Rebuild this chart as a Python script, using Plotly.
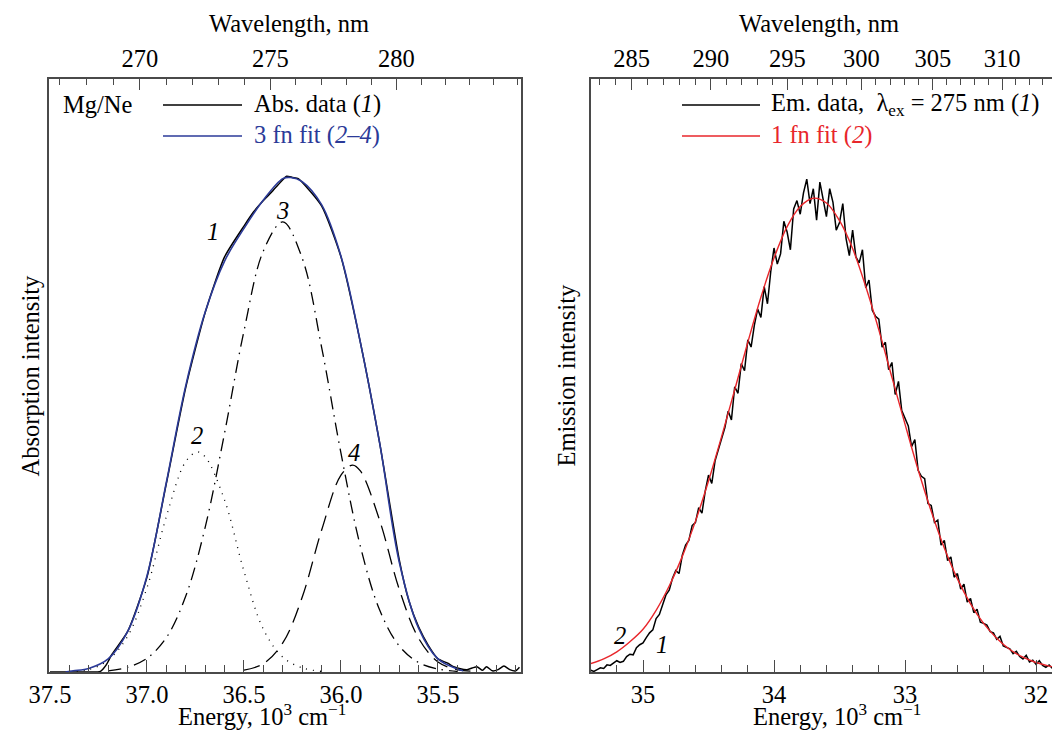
import plotly.graph_objects as go

# ---------------- data (energy in 10^3 cm^-1, intensity in axis fraction) ----------------
# Left panel: Mg/Ne absorption
abs_E = [37.50, 37.40, 37.30, 37.24, 37.21, 37.18, 37.10, 37.00, 36.90, 36.80, 36.70, 36.60,
         36.50, 36.45, 36.40, 36.35, 36.30, 36.28, 36.25, 36.22, 36.20, 36.10, 36.00, 35.90,
         35.80, 35.70, 35.65, 35.60, 35.55, 35.50, 35.45, 35.42, 35.39, 35.35, 35.30, 35.27,
         35.25, 35.22, 35.19, 35.16, 35.13, 35.10, 35.08]
abs_I = [0.000, 0.000, 0.000, 0.001, 0.012, 0.030, 0.068, 0.160, 0.318, 0.480, 0.606, 0.700,
         0.752, 0.776, 0.795, 0.812, 0.830, 0.836, 0.834, 0.832, 0.826, 0.786, 0.700, 0.556,
         0.385, 0.190, 0.120, 0.076, 0.045, 0.022, 0.015, 0.009, 0.006, 0.004, 0.009, 0.003,
         0.009, 0.002, 0.004, 0.010, 0.004, 0.002, 0.008]

fit3_E = [37.42, 37.38, 37.30, 37.20, 37.10, 37.00, 36.90, 36.80, 36.70, 36.60, 36.50, 36.40,
          36.30, 36.26, 36.20, 36.10, 36.00, 35.90, 35.80, 35.70, 35.60, 35.50, 35.40, 35.37]
fit3_I = [0.000, 0.002, 0.006, 0.022, 0.068, 0.162, 0.320, 0.483, 0.607, 0.693, 0.748, 0.796,
          0.832, 0.834, 0.827, 0.788, 0.701, 0.556, 0.385, 0.186, 0.074, 0.022, 0.005, 0.002]

comp2_E = [37.40, 37.30, 37.20, 37.10, 37.00, 36.90, 36.80, 36.74, 36.70, 36.60, 36.50, 36.40,
           36.30, 36.20, 36.10]
comp2_I = [0.001, 0.004, 0.020, 0.060, 0.142, 0.262, 0.355, 0.371, 0.363, 0.290, 0.170, 0.072,
           0.025, 0.007, 0.001]

comp3_E = [37.20, 37.10, 37.00, 36.90, 36.80, 36.70, 36.60, 36.50, 36.40, 36.30, 36.20, 36.10,
           36.00, 35.90, 35.80, 35.70, 35.60, 35.50, 35.40]
comp3_I = [0.002, 0.008, 0.023, 0.058, 0.128, 0.244, 0.403, 0.575, 0.710, 0.759, 0.698, 0.548,
           0.369, 0.212, 0.104, 0.044, 0.016, 0.005, 0.001]

comp4_E = [36.50, 36.40, 36.30, 36.20, 36.10, 36.00, 35.94, 35.90, 35.80, 35.70, 35.60, 35.50,
           35.40, 35.30]
comp4_I = [0.003, 0.014, 0.049, 0.126, 0.239, 0.332, 0.349, 0.339, 0.255, 0.140, 0.057, 0.017,
           0.004, 0.001]

# Right panel: emission (excitation 275 nm); data sampled from E0 in steps of dE
em_E0 = 35.400
em_dE = -0.025
em_I = [0.003, 0.001, 0.004, 0.007, 0.006, 0.012, 0.011, 0.015,
        0.019, 0.016, 0.018, 0.026, 0.030, 0.029, 0.041, 0.046,
        0.049, 0.058, 0.066, 0.071, 0.090, 0.097, 0.114, 0.130,
        0.138, 0.158, 0.171, 0.166, 0.197, 0.214, 0.222, 0.247,
        0.252, 0.277, 0.268, 0.305, 0.332, 0.318, 0.356, 0.375,
        0.390, 0.412, 0.440, 0.425, 0.481, 0.470, 0.520, 0.508,
        0.560, 0.548, 0.585, 0.612, 0.598, 0.650, 0.621, 0.675,
        0.715, 0.688, 0.705, 0.760, 0.742, 0.712, 0.781, 0.795,
        0.772, 0.808, 0.831, 0.790, 0.815, 0.762, 0.826, 0.800,
        0.768, 0.815, 0.792, 0.745, 0.758, 0.790, 0.731, 0.702,
        0.745, 0.700, 0.690, 0.712, 0.648, 0.661, 0.610, 0.600,
        0.595, 0.548, 0.556, 0.510, 0.522, 0.468, 0.490, 0.441,
        0.428, 0.415, 0.380, 0.392, 0.340, 0.330, 0.326, 0.284,
        0.281, 0.252, 0.256, 0.214, 0.222, 0.188, 0.194, 0.160,
        0.166, 0.140, 0.148, 0.118, 0.124, 0.100, 0.106, 0.084,
        0.082, 0.079, 0.068, 0.066, 0.055, 0.060, 0.044, 0.041,
        0.039, 0.031, 0.035, 0.026, 0.022, 0.028, 0.017, 0.020,
        0.013, 0.019, 0.011, 0.008, 0.012, 0.006, 0.010, 0.007]

fit1_E = [35.40, 35.30, 35.20, 35.10, 35.00, 34.90, 34.80, 34.70, 34.60, 34.50, 34.40, 34.30,
          34.20, 34.10, 34.00, 33.90, 33.80, 33.70, 33.60, 33.50, 33.40, 33.30, 33.20, 33.10,
          33.00, 32.90, 32.80, 32.70, 32.60, 32.50, 32.40, 32.30, 32.20, 32.10, 32.00, 31.90,
          31.82]
fit1_I = [0.014, 0.022, 0.034, 0.051, 0.072, 0.104, 0.145, 0.195, 0.254, 0.322, 0.397, 0.476,
          0.556, 0.632, 0.698, 0.751, 0.785, 0.799, 0.791, 0.761, 0.714, 0.650, 0.577, 0.497,
          0.418, 0.341, 0.271, 0.209, 0.157, 0.115, 0.082, 0.057, 0.038, 0.025, 0.016, 0.010,
          0.007]

# Tick labels
left_E_ticks = [37.5, 37.0, 36.5, 36.0, 35.5]
left_wl_major = [270, 275, 280]
left_wl_minor = list(range(267, 286))
right_E_ticks = [35, 34, 33, 32]
right_wl_major = [285, 290, 295, 300, 305, 310]
right_wl_minor = list(range(283, 315))

# ---------------- styling / geometry ----------------
FONT = "Liberation Serif"
FS = 24.5
AX = "#4a4a4a"
BLUE = "#2b3a98"
RED = "#e8262b"
W, H = 1060, 730
OFF = 8  # page body margin: figure origin sits at screen (8, 8)
# target screen geometry of the plot areas
SX0, SX1, SY0, SY1 = 49, 1060, 79, 672
ML = SX0 - OFF
MT = SY0 - OFF
MR = W - (SX1 - OFF)
MB = H - (SY1 - OFF)
PW, PH = W - ML - MR, H - MT - MB


def px(x):  # screen x -> paper
    return (x - SX0) / PW


def py(y):  # screen y -> paper
    return (SY1 - y) / PH


def wl_to_E(w):
    return 1e4 / w


fig = go.Figure()

# left panel traces
fig.add_trace(go.Scatter(x=comp2_E, y=comp2_I, mode="lines", line_shape="spline",
                         line=dict(color="black", width=1.3, dash="1px,6px"), xaxis="x", yaxis="y"))
fig.add_trace(go.Scatter(x=comp3_E, y=comp3_I, mode="lines", line_shape="spline",
                         line=dict(color="black", width=1.3, dash="13px,6px,1.5px,6px"), xaxis="x", yaxis="y"))
fig.add_trace(go.Scatter(x=comp4_E, y=comp4_I, mode="lines", line_shape="spline",
                         line=dict(color="black", width=1.3, dash="16px,8px"), xaxis="x", yaxis="y"))
fig.add_trace(go.Scatter(x=abs_E, y=abs_I, mode="lines", line_shape="spline",
                         line=dict(color="black", width=1.5, smoothing=0.6), xaxis="x", yaxis="y"))
fig.add_trace(go.Scatter(x=fit3_E, y=fit3_I, mode="lines", line_shape="spline",
                         line=dict(color=BLUE, width=1.6), xaxis="x", yaxis="y"))
# invisible copy so that the wavelength (top) axis is drawn
fig.add_trace(go.Scatter(x=abs_E, y=abs_I, mode="lines", opacity=0, hoverinfo="skip",
                         line=dict(width=0), xaxis="x3", yaxis="y"))

# right panel traces
fig.add_trace(go.Scatter(x0=em_E0, dx=em_dE, y=em_I, mode="lines",
                         line=dict(color="black", width=1.5), xaxis="x2", yaxis="y2"))
fig.add_trace(go.Scatter(x=fit1_E, y=fit1_I, mode="lines", line_shape="spline",
                         line=dict(color=RED, width=1.4), xaxis="x2", yaxis="y2"))
fig.add_trace(go.Scatter(x=fit1_E, y=fit1_I, mode="lines", opacity=0, hoverinfo="skip",
                         line=dict(width=0), xaxis="x4", yaxis="y2"))

tickfont = dict(family=FONT, size=FS, color="black")
common = dict(showgrid=False, zeroline=False, showline=True, linecolor=AX, linewidth=1.8,
              ticks="inside", tickcolor=AX, tickwidth=1.2, tickfont=tickfont)

left_dom = [0, px(521)]
right_dom = [px(591), 1.0]
left_range = [37.505, 35.072]
right_range = [35.397, 31.817]

fig.update_layout(
    width=W, height=H,
    margin=dict(l=ML, r=MR, t=MT, b=MB, autoexpand=False),
    paper_bgcolor="white", plot_bgcolor="white",
    showlegend=False,
    xaxis=dict(domain=left_dom, range=left_range, anchor="y", side="bottom",
               tickmode="array", tickvals=left_E_ticks, tickformat=".1f", ticklen=12,
               minor=dict(dtick=0.1, tick0=35.5, ticks="inside", ticklen=7, tickcolor=AX, tickwidth=1.2),
               **common),
    xaxis3=dict(overlaying="x", range=left_range, anchor="y", side="top",
                tickmode="array", tickvals=[wl_to_E(w) for w in left_wl_major],
                ticktext=[str(w) for w in left_wl_major], ticklen=11,
                minor=dict(tickmode="array", tickvals=[wl_to_E(w) for w in left_wl_minor],
                           ticks="inside", ticklen=6, tickcolor=AX, tickwidth=1.2),
                **common),
    yaxis=dict(domain=[0, 1], range=[0, 1], anchor="x", showgrid=False, zeroline=False,
               showline=True, mirror=True, linecolor=AX, linewidth=1.8,
               ticks="", showticklabels=False),
    xaxis2=dict(domain=right_dom, range=right_range, anchor="y2", side="bottom",
                tickmode="array", tickvals=right_E_ticks, tickformat="d", ticklen=12,
                minor=dict(dtick=0.2, tick0=32, ticks="inside", ticklen=7, tickcolor=AX, tickwidth=1.2),
                **common),
    xaxis4=dict(overlaying="x2", range=right_range, anchor="y2", side="top",
                tickmode="array", tickvals=[wl_to_E(w) for w in right_wl_major],
                ticktext=[str(w) for w in right_wl_major], ticklen=11,
                minor=dict(tickmode="array", tickvals=[wl_to_E(w) for w in right_wl_minor],
                           ticks="inside", ticklen=6, tickcolor=AX, tickwidth=1.2),
                **common),
    yaxis2=dict(domain=[0, 1], range=[0, 1], anchor="x2", showgrid=False, zeroline=False,
                showline=True, mirror=False, linecolor=AX, linewidth=1.8,
                ticks="", showticklabels=False),
)

ann = []


def txt(x, y, text, xanchor="center", color="black", angle=0, xref="paper", yref="paper"):
    ann.append(dict(x=x, y=y, xref=xref, yref=yref, text=text, showarrow=False,
                    xanchor=xanchor, yanchor="middle", textangle=angle,
                    font=dict(family=FONT, size=FS, color=color)))


# axis titles
txt(px(289), py(23), "Wavelength, nm")
txt(px(819), py(23), "Wavelength, nm")
txt(px(262), py(715), "Energy, 10<sup>3</sup> cm<sup>\u22121</sup>")
txt(px(837), py(715), "Energy, 10<sup>3</sup> cm<sup>\u22121</sup>")
txt(px(30), 0.5, "Absorption intensity", angle=-90)
txt(px(566), 0.5, "Emission intensity", angle=-90)

# legends
txt(px(61), py(104), "Mg/Ne", xanchor="left")
txt(px(252), py(104), "Abs. data (<i>1</i>)", xanchor="left")
txt(px(252), py(135), "3 fn fit (<i>2\u20134</i>)", xanchor="left", color=BLUE)
txt(px(769), py(104), "Em. data,\u00a0 \u03bb<sub>ex</sub> = 275 nm (<i>1</i>)", xanchor="left")
txt(px(769), py(135), "1 fn fit (<i>2</i>)", xanchor="left", color=RED)

# curve numbers (data coordinates)
txt(36.66, 0.742, "<i>1</i>", xref="x", yref="y")
txt(36.742, 0.398, "<i>2</i>", xref="x", yref="y")
txt(36.299, 0.779, "<i>3</i>", xref="x", yref="y")
txt(35.933, 0.371, "<i>4</i>", xref="x", yref="y")
txt(35.176, 0.062, "<i>2</i>", xref="x2", yref="y2")
txt(34.855, 0.046, "<i>1</i>", xref="x2", yref="y2")

fig.update_layout(annotations=ann)

shapes = []
for (x0, x1, y, c) in [(163, 242, 105, "black"), (163, 242, 136, BLUE),
                       (682, 760, 105, "black"), (682, 760, 136, RED)]:
    shapes.append(dict(type="line", xref="paper", yref="paper", x0=px(x0), x1=px(x1),
                       y0=py(y), y1=py(y), line=dict(color=c, width=1.5)))
fig.update_layout(shapes=shapes)

fig.write_html("out.html")
